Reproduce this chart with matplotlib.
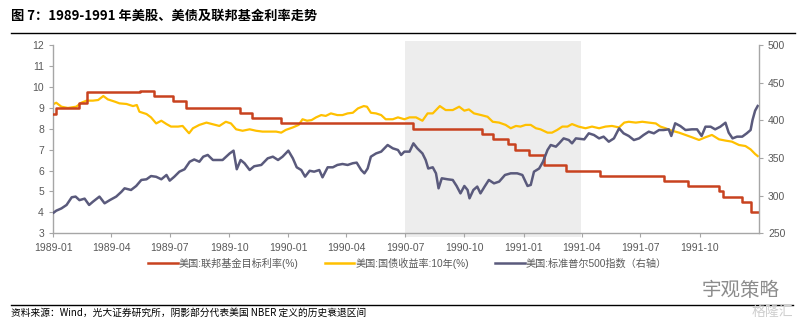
import pandas as pd
import matplotlib
matplotlib.use("Agg")
import matplotlib.pyplot as plt
import matplotlib.dates as mdates
from matplotlib.lines import Line2D

plt.rcParams['font.family'] = ['Liberation Sans', 'Noto Sans CJK SC']

# 联邦基金目标利率 (%), 阶梯
fed_dates = ['1989-01-01', '1989-01-05', '1989-02-11', '1989-02-23', '1989-05-16', '1989-06-06',
             '1989-07-06', '1989-07-27', '1989-10-18', '1989-11-06', '1989-12-20', '1990-07-13',
             '1990-10-29', '1990-11-14', '1990-12-07', '1990-12-19', '1991-01-09', '1991-02-01',
             '1991-03-08', '1991-04-30', '1991-08-06', '1991-09-13', '1991-10-31', '1991-11-06',
             '1991-12-06', '1991-12-20', '1991-12-31']
fed_rate = [8.6875, 9.0, 9.25, 9.75, 9.8125, 9.5625, 9.3125, 9.0, 8.75, 8.5, 8.25, 8.0,
            7.75, 7.5, 7.25, 7.0, 6.75, 6.25, 6.0, 5.75, 5.5, 5.25, 5.0, 4.75, 4.5, 4.0, 4.0]

# 10年期国债收益率 (%)
tsy_dates = ['1989-01-02', '1989-01-06', '1989-01-14', '1989-01-24', '1989-02-06', '1989-02-14',
             '1989-02-22', '1989-03-04', '1989-03-12', '1989-03-20', '1989-03-27', '1989-04-07',
             '1989-04-14', '1989-04-25', '1989-05-05', '1989-05-11', '1989-05-15', '1989-05-26',
             '1989-06-02', '1989-06-10', '1989-06-18', '1989-06-26', '1989-07-03', '1989-07-14',
             '1989-07-21', '1989-07-31', '1989-08-06', '1989-08-16', '1989-08-27', '1989-09-06',
             '1989-09-16', '1989-09-26', '1989-10-04', '1989-10-12', '1989-10-22', '1989-11-02',
             '1989-11-12', '1989-11-22', '1989-12-03', '1989-12-13', '1989-12-21', '1989-12-28',
             '1990-01-08', '1990-01-17', '1990-01-23', '1990-01-30', '1990-02-06', '1990-02-13',
             '1990-02-21', '1990-02-28', '1990-03-08', '1990-03-18', '1990-03-26', '1990-04-03',
             '1990-04-11', '1990-04-19', '1990-04-28', '1990-05-03', '1990-05-09', '1990-05-17',
             '1990-05-25', '1990-06-01', '1990-06-12', '1990-06-20', '1990-06-30', '1990-07-08',
             '1990-07-18', '1990-07-28', '1990-08-05', '1990-08-13', '1990-08-19', '1990-08-24',
             '1990-09-02', '1990-09-13', '1990-09-23', '1990-10-01', '1990-10-08', '1990-10-16',
             '1990-10-27', '1990-11-06', '1990-11-14', '1990-11-24', '1990-12-04', '1990-12-12',
             '1990-12-20', '1990-12-27', '1991-01-04', '1991-01-12', '1991-01-20', '1991-01-27',
             '1991-02-07', '1991-02-14', '1991-02-22', '1991-03-02', '1991-03-10', '1991-03-17',
             '1991-03-27', '1991-04-07', '1991-04-17', '1991-04-28', '1991-05-08', '1991-05-18',
             '1991-05-29', '1991-06-06', '1991-06-13', '1991-06-24', '1991-07-04', '1991-07-14',
             '1991-07-25', '1991-08-01', '1991-08-09', '1991-08-19', '1991-08-30', '1991-09-09',
             '1991-09-19', '1991-09-30', '1991-10-10', '1991-10-20', '1991-10-31', '1991-11-10',
             '1991-11-20', '1991-12-01', '1991-12-11', '1991-12-19', '1991-12-26', '1991-12-30']
tsy_10y = [9.18, 9.24, 9.05, 8.99, 9.05, 9.24, 9.34, 9.34, 9.37, 9.56, 9.40, 9.29,
           9.21, 9.18, 9.08, 9.13, 8.81, 8.70, 8.54, 8.25, 8.38, 8.22, 8.10, 8.10,
           8.13, 7.78, 8.02, 8.18, 8.29, 8.21, 8.13, 8.33, 8.25, 7.97, 7.90, 7.97,
           7.90, 7.86, 7.86, 7.86, 7.81, 7.94, 8.06, 8.18, 8.45, 8.38, 8.41, 8.54,
           8.65, 8.61, 8.73, 8.65, 8.65, 8.73, 8.76, 8.97, 9.08, 9.05, 8.76, 8.73,
           8.65, 8.45, 8.45, 8.54, 8.45, 8.54, 8.54, 8.38, 8.73, 8.73, 8.92, 9.08,
           8.89, 8.89, 9.05, 8.86, 8.92, 8.73, 8.65, 8.57, 8.33, 8.29, 8.18, 8.02,
           8.13, 8.10, 8.18, 8.18, 8.02, 7.97, 7.81, 7.81, 7.94, 8.10, 8.10, 8.22,
           8.10, 8.02, 8.10, 8.02, 8.10, 8.13, 8.06, 8.29, 8.33, 8.29, 8.33, 8.29,
           8.25, 8.10, 8.02, 7.90, 7.81, 7.70, 7.59, 7.46, 7.59, 7.70, 7.49, 7.43,
           7.38, 7.22, 7.17, 7.01, 6.79, 6.69]

# 标准普尔500指数 (右轴)
spx_dates = ['1989-01-02', '1989-01-06', '1989-01-14', '1989-01-22', '1989-01-30', '1989-02-05',
             '1989-02-11', '1989-02-19', '1989-02-26', '1989-03-04', '1989-03-14', '1989-03-22',
             '1989-03-30', '1989-04-09', '1989-04-17', '1989-04-22', '1989-05-02', '1989-05-10',
             '1989-05-18', '1989-05-26', '1989-06-02', '1989-06-10', '1989-06-18', '1989-06-26',
             '1989-07-01', '1989-07-08', '1989-07-16', '1989-07-24', '1989-08-01', '1989-08-08',
             '1989-08-16', '1989-08-22', '1989-08-29', '1989-09-06', '1989-09-14', '1989-09-21',
             '1989-10-02', '1989-10-08', '1989-10-13', '1989-10-19', '1989-10-25', '1989-11-02',
             '1989-11-09', '1989-11-20', '1989-11-30', '1989-12-08', '1989-12-16', '1989-12-23',
             '1990-01-01', '1990-01-08', '1990-01-14', '1990-01-21', '1990-01-27', '1990-02-03',
             '1990-02-10', '1990-02-18', '1990-02-23', '1990-03-03', '1990-03-11', '1990-03-18',
             '1990-03-26', '1990-04-03', '1990-04-11', '1990-04-17', '1990-04-24', '1990-04-29',
             '1990-05-04', '1990-05-09', '1990-05-17', '1990-05-25', '1990-06-04', '1990-06-12',
             '1990-06-20', '1990-06-25', '1990-06-30', '1990-07-08', '1990-07-14', '1990-07-20',
             '1990-07-28', '1990-08-02', '1990-08-06', '1990-08-13', '1990-08-18', '1990-08-22',
             '1990-08-27', '1990-09-05', '1990-09-13', '1990-09-19', '1990-09-25', '1990-10-01',
             '1990-10-06', '1990-10-09', '1990-10-15', '1990-10-21', '1990-10-26', '1990-11-02',
             '1990-11-08', '1990-11-16', '1990-11-24', '1990-12-03', '1990-12-12', '1990-12-22',
             '1990-12-30', '1991-01-07', '1991-01-12', '1991-01-17', '1991-01-25', '1991-01-31',
             '1991-02-07', '1991-02-12', '1991-02-20', '1991-02-25', '1991-03-04', '1991-03-12',
             '1991-03-17', '1991-03-23', '1991-04-05', '1991-04-12', '1991-04-20', '1991-04-28',
             '1991-05-05', '1991-05-13', '1991-05-21', '1991-05-29', '1991-06-05', '1991-06-13',
             '1991-06-21', '1991-06-29', '1991-07-06', '1991-07-14', '1991-07-22', '1991-07-30',
             '1991-08-06', '1991-08-14', '1991-08-18', '1991-08-24', '1991-09-01', '1991-09-09',
             '1991-09-19', '1991-09-27', '1991-10-04', '1991-10-10', '1991-10-18', '1991-10-25',
             '1991-11-02', '1991-11-10', '1991-11-15', '1991-11-21', '1991-11-28', '1991-12-06',
             '1991-12-13', '1991-12-19', '1991-12-22', '1991-12-26', '1991-12-30']
spx = [277.4, 280, 283, 287.6, 297.8, 298.7, 294, 296, 287.6, 292, 298.7, 289.8,
       294, 298.7, 305, 309.7, 307.5, 312.8, 320.8, 321.7, 326, 325, 321.7, 327.4,
       319.9, 325, 331.8, 335, 345, 348, 345, 351.7, 354, 347.3, 347.3, 347.3,
       356, 359.7, 335, 347.3, 343, 334, 339, 340.7, 349.5, 351.7, 347.3, 351.7,
       359.7, 349.5, 337.6, 334, 325.2, 333, 331.8, 334, 324.3, 337.6, 337.6, 340.7,
       342, 340.7, 343, 343.8, 334, 329.6, 336, 351.7, 356, 358.4, 367.2, 362.8,
       360.6, 354, 358.4, 358.4, 369.4, 362.8, 356, 347.3, 336, 337.6, 329.6, 309.7,
       323, 321.7, 320.8, 312.8, 303, 312.8, 307.5, 296.4, 307.5, 312, 303, 312.8,
       320.8, 316.3, 318.6, 327.4, 329.6, 329.6, 327.4, 312.8, 314.2, 331.8, 336, 345,
       360.6, 367.2, 365, 369.4, 376, 373.8, 369.4, 376, 374.7, 382.7, 380.5, 376,
       378.3, 371.6, 376, 389.3, 382.7, 379.2, 373.8, 376, 380.5, 384.9, 382.7, 387.1,
       387.1, 388, 379.2, 396, 392.4, 387.1, 388, 388, 379.2, 391.5, 391.5, 388,
       391.5, 396.8, 383.6, 376, 378.3, 378.3, 382.7, 387.1, 400.4, 412.8, 419]

# NBER 衰退区间
recession = ('1990-07-01', '1991-03-31')

xtick_dates = pd.date_range('1989-01-01', '1991-10-01', freq='QS')

c_fed = '#C8421F'
c_tsy = '#FFC000'
c_spx = '#5A5A7C'
c_axis = '#A6A6A6'
c_text = '#595959'

fig = plt.figure(figsize=(8.07, 3.25), dpi=100)
ax = fig.add_axes([0.0657, 0.2822, 0.8748, 0.5794])
ax2 = ax.twinx()

ax.axvspan(pd.Timestamp(recession[0]), pd.Timestamp(recession[1]), ymin=-0.02, ymax=1.02,
           color='#EDEDED', lw=0, zorder=0, clip_on=False)

ax.step(pd.to_datetime(fed_dates), fed_rate, where='post', color=c_fed, lw=1.8, zorder=3)
ax.plot(pd.to_datetime(tsy_dates), tsy_10y, color=c_tsy, lw=1.6, zorder=2)
ax2.plot(pd.to_datetime(spx_dates), spx, color=c_spx, lw=1.8)

ax.set_xlim(pd.Timestamp('1989-01-01'), pd.Timestamp('1992-01-01'))
ax.set_ylim(3, 12)
ax.set_yticks(range(3, 13))
ax2.set_ylim(250, 500)
ax2.set_yticks(range(250, 501, 50))
ax.set_xticks(xtick_dates)
ax.xaxis.set_major_formatter(mdates.DateFormatter('%Y-%m'))

for a in (ax, ax2):
    a.spines['top'].set_visible(False)
    for s in ('left', 'right', 'bottom'):
        a.spines[s].set_color(c_axis)
        a.spines[s].set_linewidth(1.0)
    a.tick_params(colors=c_axis, labelcolor=c_text, labelsize=7.5, length=3, width=0.8)
ax.spines['right'].set_visible(False)
ax2.spines['left'].set_visible(False)
ax2.spines['bottom'].set_visible(False)
ax.tick_params(axis='x', pad=4)

handles = [Line2D([], [], color=c_fed, lw=1.8),
           Line2D([], [], color=c_tsy, lw=1.8),
           Line2D([], [], color=c_spx, lw=1.8)]
labels = ['美国:联邦基金目标利率(%)', '美国:国债收益率:10年(%)', '美国:标准普尔500指数（右轴）']
leg = fig.legend(handles, labels, loc='center', bbox_to_anchor=(0.505, 1 - 263 / 325), ncol=3,
                 frameon=False, fontsize=7.3, handlelength=2.9, handletextpad=0.1,
                 columnspacing=2.6)
for t in leg.get_texts():
    t.set_color(c_text)

fig.text(11 / 807, 1 - 16 / 325, '图 7：1989-1991 年美股、美债及联邦基金利率走势',
         fontsize=9.5, fontweight='bold', va='center', ha='left',
         family=['Noto Sans CJK SC', 'DejaVu Sans'])
fig.add_artist(Line2D([11 / 807, 795 / 807], [1 - 33 / 325] * 2, color='black', lw=1.0))
fig.add_artist(Line2D([11 / 807, 793 / 807], [1 - 305 / 325] * 2, color='black', lw=1.0))
fig.text(11 / 807, 1 - 313 / 325, '资料来源：Wind，光大证券研究所，阴影部分代表美国 NBER 定义的历史衰退区间',
         fontsize=7, va='center', ha='left', color='black',
         family=['Noto Sans CJK SC', 'DejaVu Sans'])

fig.text(702 / 807, 1 - 290 / 325, '宇观策略', fontsize=14, color='#8C8C8C', va='center',
         family=['Noto Sans CJK SC', 'DejaVu Sans'])
fig.text(752 / 807, 1 - 312 / 325, '格隆汇', fontsize=10, color='#CFCFCF', va='center',
         family=['Noto Sans CJK SC', 'DejaVu Sans'])

fig.savefig('out.png', dpi=100)
